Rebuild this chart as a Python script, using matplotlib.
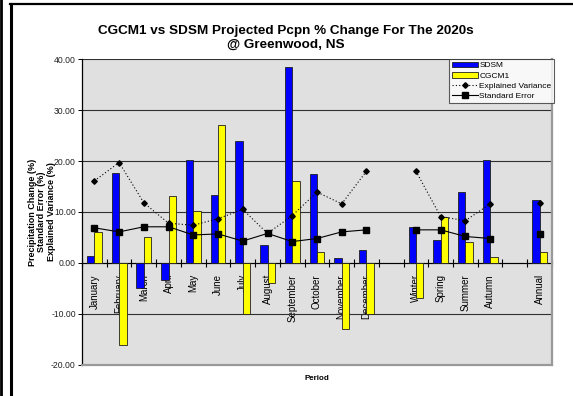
import numpy as np
import matplotlib
matplotlib.use("Agg")
import matplotlib.pyplot as plt
from matplotlib.lines import Line2D
from matplotlib.ticker import FixedLocator, FormatStrFormatter

plt.rcParams['font.family'] = ['Liberation Sans', 'DejaVu Sans']

# periods (blank slots separate months / seasons / annual)
periods = ["January", "February", "March", "April", "May", "June", "July",
           "August", "September", "October", "November", "December", "",
           "Winter", "Spring", "Summer", "Autumn", "", "Annual"]

nan = np.nan
sdsm = [1.3, 17.7, -4.9, -3.4, 20.2, 13.4, 24.0, 3.5, 38.5, 17.5, 0.9, 2.5, nan,
        7.1, 4.5, 14.0, 20.2, nan, 12.3]
cgcm1 = [6.1, -16.0, 5.1, 13.1, 10.1, 27.0, -10.0, -3.9, 16.0, 2.1, -12.9, -10.0, nan,
         -6.9, 9.0, 4.1, 1.1, nan, 2.1]
expl_var = [16.1, 19.7, 11.8, 7.8, 7.4, 8.7, 10.5, 5.8, 9.3, 13.9, 11.6, 18.0, nan,
            18.0, 9.1, 8.3, 11.6, nan, 11.8]
std_err = [6.9, 6.1, 7.1, 7.1, 5.5, 5.7, 4.3, 5.8, 4.2, 4.8, 6.1, 6.5, nan,
           6.5, 6.5, 5.2, 4.8, nan, 5.6]

x = np.arange(len(periods))
w = 0.30

fig = plt.figure(figsize=(5.73, 3.96), dpi=100)
ax = fig.add_axes([0.1431, 0.0783, 0.8202, 0.7727])
ax.set_facecolor('#E0E0E0')

b1 = ax.bar(x - w / 2, sdsm, w, color='#0000FF', edgecolor='#202020', linewidth=0.6,
            label='SDSM', zorder=3)
b2 = ax.bar(x + w / 2, cgcm1, w, color='#FFFF00', edgecolor='#202020', linewidth=0.6,
            label='CGCM1', zorder=3)
l1, = ax.plot(x, expl_var, color='black', linestyle=(0, (1, 2)), linewidth=0.8,
              marker='D', markersize=2.8, label='Explained Variance', zorder=4)
l2, = ax.plot(x, std_err, color='black', linestyle='-', linewidth=0.8,
              marker='s', markersize=4, label='Standard Error', zorder=4)

ax.set_xlim(-0.5, len(periods) - 0.5)
ax.set_ylim(-20, 40)
ax.yaxis.set_major_locator(FixedLocator(np.arange(-20, 41, 10)))
ax.yaxis.set_major_formatter(FormatStrFormatter('%.2f'))
ax.grid(axis='y', color='#303030', linewidth=0.8, zorder=1)
ax.tick_params(axis='y', labelsize=6.2, length=3, width=0.7, colors='black',
               labelcolor='#222222', pad=1.5)

# category axis sits on the zero line
ax.spines['bottom'].set_position(('data', 0))
ax.spines['bottom'].set_linewidth(0.8)
ax.spines['left'].set_linewidth(0.9)
ax.spines['top'].set_visible(False)
ax.spines['right'].set_visible(False)
ax.set_xticks(x)
ax.set_xticklabels(periods, rotation=90, fontsize=7, va='top')
ax.set_xticks(np.arange(-0.5, len(periods), 1), minor=True)
ax.tick_params(axis='x', which='major', length=0, pad=8)
ax.tick_params(axis='x', which='minor', length=6, width=0.8, direction='inout')

# gray frame on the right and bottom of the plot area
ax.plot([1, 1], [0, 1], transform=ax.transAxes, color='#999999', lw=1.6,
        clip_on=False, zorder=5)
ax.plot([0, 1], [0, 0], transform=ax.transAxes, color='#999999', lw=1.6,
        clip_on=False, zorder=5)

ax.set_ylabel("Precipitation Change (%)\nStandard Error (%)\nExplained Variance (%)",
              fontsize=6.5, fontweight='bold', linespacing=1.1)
ax.yaxis.set_label_coords(-0.055, 0.5)
fig.text(0.553, 0.043, "Period", fontsize=5.8, fontweight='bold', ha='center',
         va='center')

fig.text(0.498, 0.904, "CGCM1 vs SDSM Projected Pcpn % Change For The 2020s\n@ Greenwood, NS",
         fontsize=9.7, fontweight='bold', ha='center', va='center', linespacing=1.25)

leg = ax.legend([b1, b2, l1, l2], ['SDSM', 'CGCM1', 'Explained Variance', 'Standard Error'],
                loc='upper right', bbox_to_anchor=(1.004, 1.0), fontsize=6,
                frameon=True, fancybox=False, edgecolor='#333333',
                borderpad=0.3, labelspacing=0.3, handlelength=3.2,
                handletextpad=0.1, borderaxespad=0)
leg.get_frame().set_linewidth(0.8)
leg.set_zorder(10)

# outer frame lines
fig.add_artist(Line2D([0.002, 0.002], [0, 1], color='black', lw=2))
fig.add_artist(Line2D([0.0185, 0.0185], [0, 0.99], color='black', lw=2.2))
fig.add_artist(Line2D([0.017, 1], [0.9895, 0.9895], color='black', lw=1.6))

fig.savefig('out.png', dpi=100)
